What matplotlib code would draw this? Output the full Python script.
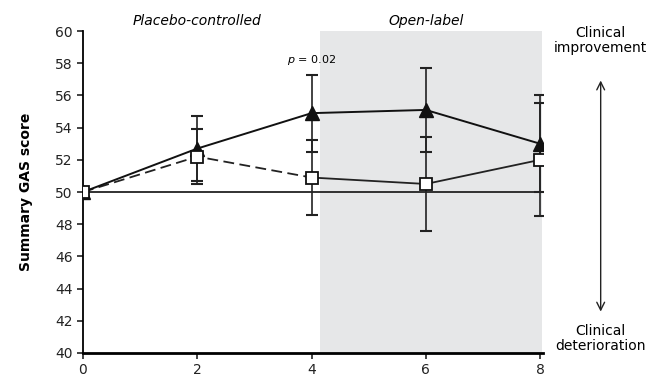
import numpy as np
import matplotlib.pyplot as plt

weeks = [0, 2, 4, 6, 8]
drug_mean = [50.0, 52.7, 54.9, 55.1, 53.0]
drug_err = [0.0, 2.0, 2.4, 2.6, 3.0]
plac_mean = [50.0, 52.2, 50.9, 50.5, 52.0]
plac_err = [0.0, 1.7, 2.35, 2.9, 3.5]
yticks = [40, 42, 44, 46, 48, 50, 52, 54, 56, 58, 60]

plt.rcParams['font.family'] = ['DejaVu Sans']
plt.rcParams['font.size'] = 9

fig = plt.figure(figsize=(6.56, 3.81), dpi=100)
ax = fig.add_axes([0.1265, 0.0735, 0.7012, 0.845])

# open-label period shaded
ax.axvspan(4.14, 8.03, color="#e6e7e8", zorder=0, lw=0)
ax.axhline(50, color="#222222", lw=1.3, zorder=1)

# error bars
ax.errorbar(weeks[1:], drug_mean[1:], yerr=drug_err[1:], fmt="none",
            ecolor="#222222", elinewidth=1.2, capsize=4, capthick=1.5, zorder=2)
ax.errorbar(weeks[1:], plac_mean[1:], yerr=plac_err[1:], fmt="none",
            ecolor="#222222", elinewidth=1.2, capsize=4, capthick=1.5, zorder=2)

# placebo: dashed in controlled phase, solid in open label
ax.plot(weeks[:3], plac_mean[:3], "--", color="#222222", lw=1.3,
        dashes=(6, 3), zorder=3)
ax.plot(weeks[2:], plac_mean[2:], "-", color="#222222", lw=1.3, zorder=3)
ax.plot(weeks, drug_mean, "-", color="#111111", lw=1.4, zorder=4)
ax.plot(weeks, drug_mean, "^", color="#111111", ms=10, zorder=5)
ax.plot(weeks, plac_mean, "s", mfc="white", mec="#111111", mew=1.3,
        ms=9, zorder=6)

ax.set_xlim(0, 8.05)
ax.set_ylim(40, 60)
ax.set_xticks(weeks)
ax.set_yticks(yticks)
for s in ["top", "right"]:
    ax.spines[s].set_visible(False)
ax.spines["bottom"].set_linewidth(2)
ax.spines["left"].set_linewidth(1.3)
ax.tick_params(direction="out", length=4, width=1.2, labelsize=10,
               colors="#222222")
ax.set_ylabel("Summary GAS score", fontweight="bold", fontsize=10,
              labelpad=16)

ax.text(2, 60.65, "Placebo-controlled", style="italic", ha="center",
        va="center", fontsize=10)
ax.text(6, 60.65, "Open-label", style="italic", ha="center",
        va="center", fontsize=10)
ax.text(4, 58.2, "$p$ = 0.02", ha="center", va="center", fontsize=8)

# clinical direction arrow
ax.annotate("", xy=(9.06, 57.1), xytext=(9.06, 42.4),
            arrowprops=dict(arrowstyle="<->", color="#222222", lw=1.0,
                            mutation_scale=14),
            annotation_clip=False)
ax.text(9.06, 59.4, "Clinical\nimprovement", ha="center", va="center",
        fontsize=10, linespacing=1.1, clip_on=False)
ax.text(9.06, 40.9, "Clinical\ndeterioration", ha="center", va="center",
        fontsize=10, linespacing=1.1, clip_on=False)

fig.savefig("out.png", dpi=100)
